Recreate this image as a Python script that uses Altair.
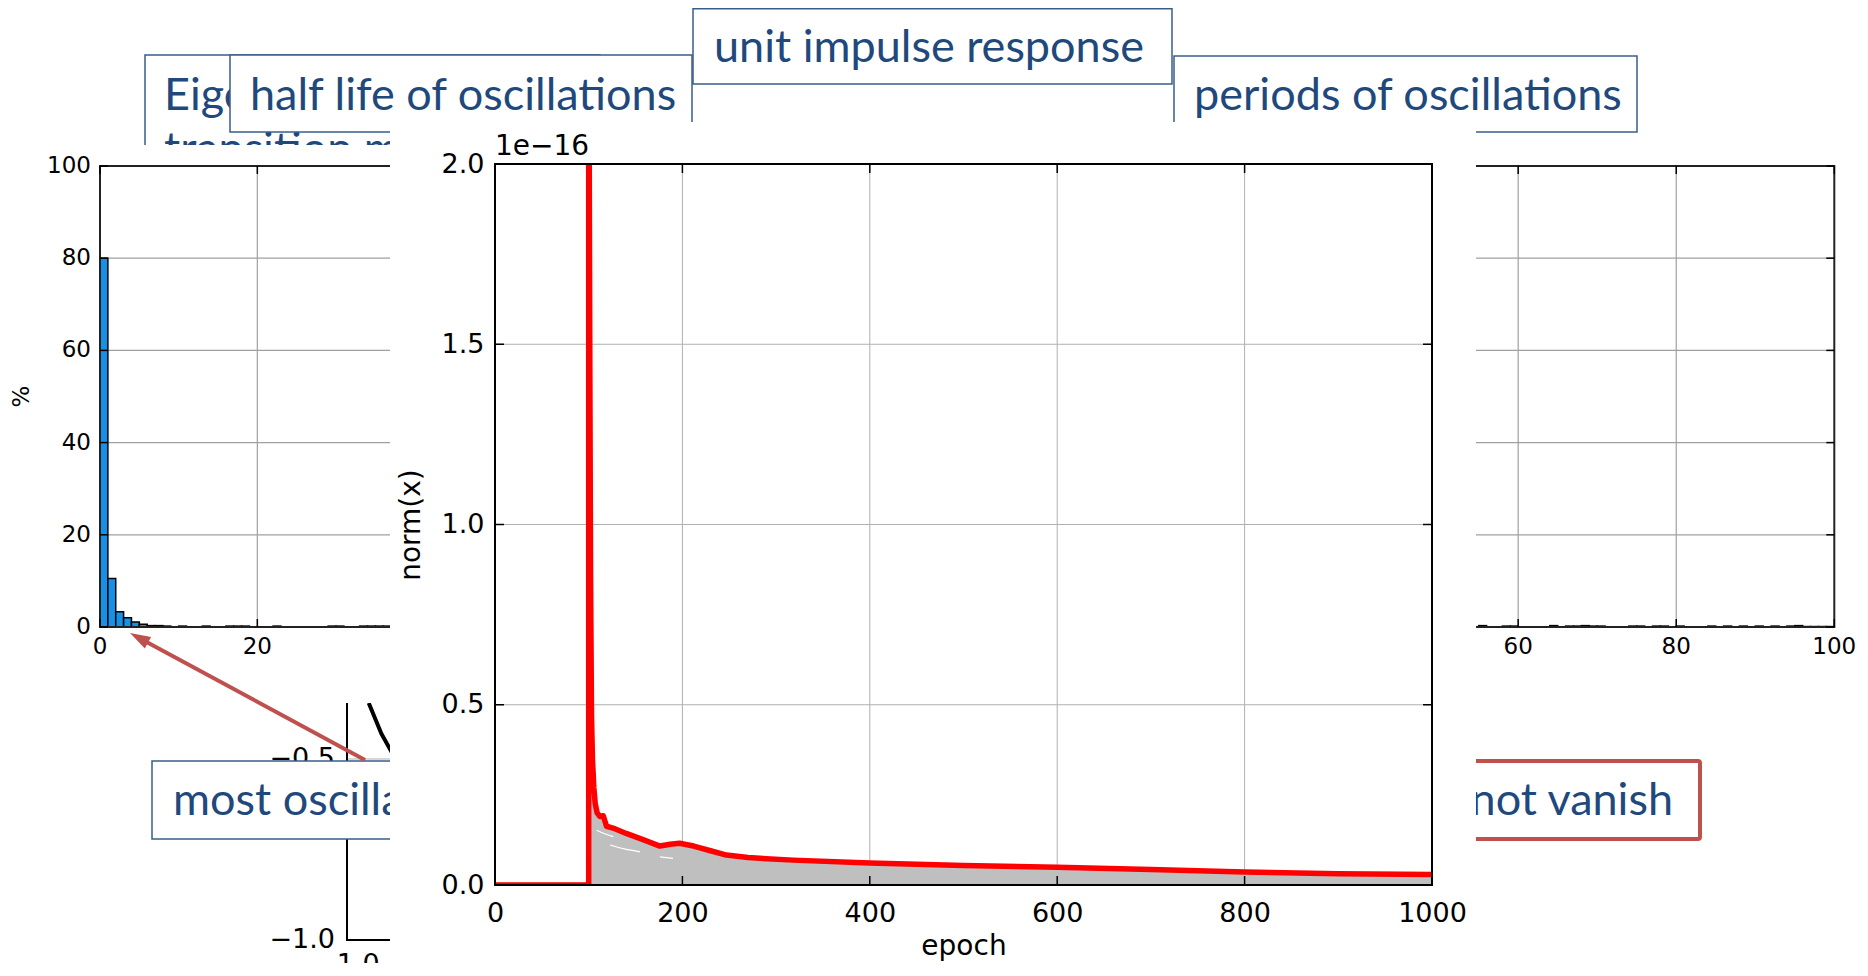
import math
import altair as alt
import pandas as pd

# ------------------------------------------------------------------
# values
# ------------------------------------------------------------------
# main panel "unit impulse response": norm(x) in units of 1e-16
EPOCH = [0, 100, 100, 101, 102, 103, 104, 105.5, 107, 109,
         112, 115.5, 117, 119, 126, 140, 158, 176, 187, 197,
         212, 230, 247, 270, 318, 400, 500, 600, 700, 800, 900, 1000]
NORM_MAX = [0, 0, 2.6, 1.6, 0.85, 0.47, 0.35, 0.27, 0.225, 0.2,
            0.19, 0.192, 0.18, 0.163, 0.158, 0.143, 0.126, 0.108, 0.113, 0.116,
            0.108, 0.095, 0.083, 0.076, 0.069, 0.061, 0.054, 0.049, 0.043, 0.036, 0.031, 0.029]
# grey envelope of the individual responses
ENV_EPOCH = [99.9, 100, 100.6, 101.5, 102.5, 103.5, 105, 107, 109, 112,
             115.5, 119, 126, 140, 158, 176, 187, 197, 212, 230,
             247, 270, 318, 400, 500, 600, 700, 800, 900, 1000]
ENV_NORM = [0, 0.62, 0.55, 0.45, 0.37, 0.31, 0.255, 0.215, 0.193, 0.183,
            0.185, 0.157, 0.153, 0.138, 0.121, 0.103, 0.108, 0.111, 0.103, 0.09,
            0.078, 0.071, 0.064, 0.056, 0.049, 0.044, 0.038, 0.031, 0.026, 0.024]
# thin white gaps between the grey responses
GAP_A_EPOCH = [108.5, 117, 126.3]
GAP_A_NORM = [0.152, 0.142, 0.134]
GAP_B_EPOCH = [122.7, 138, 154.8]
GAP_B_NORM = [0.111, 0.1, 0.092]
GAP_C_EPOCH = [176, 190]
GAP_C_NORM = [0.078, 0.074]
MAIN_X_TICKS = [0, 200, 400, 600, 800, 1000]
MAIN_Y_TICKS = [0.0, 0.5, 1.0, 1.5, 2.0]

# left histogram "half life of oscillations": % per unit bin (visible bins 0..36)
HALF_LIFE_BIN = list(range(0, 37))
HALF_LIFE_PCT = [80.0, 10.5, 3.3, 2.0, 1.1, 0.6, 0.3, 0.3, 0.2, 0,
                 0.2, 0, 0, 0.2, 0, 0, 0.2, 0.2, 0.2, 0,
                 0, 0, 0.2, 0, 0, 0, 0, 0, 0, 0.2,
                 0.2, 0, 0, 0.2, 0.2, 0.2, 0.2]
# right histogram "periods of oscillations": % per unit bin (visible bins 55..99)
PERIOD_BIN = list(range(55, 100))
PERIOD_PCT = [0.3, 0, 0, 0.2, 0.2, 0, 0, 0, 0, 0.3,
              0, 0.2, 0.2, 0.3, 0.2, 0.2, 0, 0, 0, 0.2,
              0.2, 0, 0.2, 0.2, 0, 0.2, 0, 0, 0, 0.2,
              0, 0.2, 0, 0.2, 0, 0.2, 0, 0.2, 0, 0.2,
              0.3, 0.1, 0.1, 0.1, 0.1]
HIST_TICKS = [0, 20, 40, 60, 80, 100]
LEFT_HIST_X_LABELS = [0, 20]          # the others are hidden behind the main panel
RIGHT_HIST_X_LABELS = [60, 80, 100]

# eigenvalue plot (only a corner is visible)
EIG_RE = [-0.94, -0.905, -0.866, -0.83]
EIG_IM = [-0.345, -0.43, -0.5, -0.56]
EIG_GRID = [-0.5, 0.0, 0.5]
EIG_Y_LABELS = [-1.0, -0.5]
EIG_X_LABELS = [-1.0]

TEXT_EIGEN = ["Eigenvalues of", "transition matrix"]
TEXT_HALF = "half life of oscillations"
TEXT_UNIT = "unit impulse response"
TEXT_PERIOD = "periods of oscillations"
TEXT_MOST = "most oscillations"
TEXT_VANISH = "not vanish"

# ------------------------------------------------------------------
# layout (pixels on the 1868x976 slide) and styles
# ------------------------------------------------------------------
OX, OY = 495, 164            # top-left corner of the main plot area
PW, PH = 937, 721            # main plot area size
LHIST = dict(x0=100, x1=886.7, y0=627, y1=166)   # pixel of value 0 / 100
RHIST = dict(x0=1044, x1=1834.3, y0=627, y1=166)
EIGP = dict(x0=347, x1=1071, y0=940, y1=216)     # pixel of -1 / +1
BLUE_LINE, BLUE_TEXT, RED_LINE = "#385D8A", "#1F497D", "#C0504D"
SLIDE_FONT, SLIDE_SIZE = "Lato", 45
CHART_FONT = "DejaVu Sans"
GRID = "#b0b0b0"


def sx(dom, p0, p1):
    return alt.Scale(domain=dom, range=[p0 - OX, p1 - OX], zero=False, nice=False)


def sy(dom, p0, p1):
    return alt.Scale(domain=dom, range=[p0 - OY, p1 - OY], zero=False, nice=False)


SX = sx([0, 1868], 0, 1868)
SY = sy([0, 976], 0, 976)
MX = alt.Scale(domain=[0, 1000], zero=False, nice=False)
MY = alt.Scale(domain=[0, 2], zero=False, nice=False)
LHX = sx([0, 100], LHIST["x0"], LHIST["x1"])
LHY = sy([0, 100], LHIST["y0"], LHIST["y1"])
RHX = sx([0, 100], RHIST["x0"], RHIST["x1"])
RHY = sy([0, 100], RHIST["y0"], RHIST["y1"])
EX = sx([-1, 1], EIGP["x0"], EIGP["x1"])
EY = sy([-1, 1], EIGP["y0"], EIGP["y1"])


def X(f, s):
    return alt.X(f, scale=s, axis=None)


def Y(f, s):
    return alt.Y(f, scale=s, axis=None)


def srect(x0, y0, x1, y1, fill="white", stroke=None, sw=0, radius=0):
    d = pd.DataFrame({"x0": [x0], "x1": [x1], "y0": [y0], "y1": [y1]})
    kw = dict(fill=fill, cornerRadius=radius)
    if stroke:
        kw.update(stroke=stroke, strokeWidth=sw)
    return alt.Chart(d).mark_rect(**kw).encode(
        x=X("x0:Q", SX), x2=alt.X2("x1"), y=Y("y0:Q", SY), y2=alt.Y2("y1"))


def stext(x, y, s, align="left", color=BLUE_TEXT):
    d = pd.DataFrame({"x": [x], "y": [y], "s": [s]})
    return alt.Chart(d).mark_text(align=align, baseline="alphabetic", font=SLIDE_FONT,
                                  fontSize=SLIDE_SIZE, color=color).encode(
        x=X("x:Q", SX), y=Y("y:Q", SY), text="s:N")


def frame(XS, YS, x0, x1, y0, y1, color="black", sw=2):
    d = pd.DataFrame({"a": [x0], "b": [x1], "c": [y0], "d": [y1]})
    return alt.Chart(d).mark_rect(fill="transparent", stroke=color, strokeWidth=sw).encode(
        x=X("a:Q", XS), x2=alt.X2("b"), y=Y("c:Q", YS), y2=alt.Y2("d"))


def vgrid(XS, YS, vals, lo, hi, color=GRID, sw=1):
    d = pd.DataFrame({"v": vals, "lo": lo, "hi": hi})
    return alt.Chart(d).mark_rule(color=color, strokeWidth=sw).encode(
        x=X("v:Q", XS), y=Y("lo:Q", YS), y2=alt.Y2("hi"))


def hgrid(XS, YS, vals, lo, hi, color=GRID, sw=1):
    d = pd.DataFrame({"v": vals, "lo": lo, "hi": hi})
    return alt.Chart(d).mark_rule(color=color, strokeWidth=sw).encode(
        y=Y("v:Q", YS), x=X("lo:Q", XS), x2=alt.X2("hi"))


def ticks(XS, YS, xs, ys, orient, size, **off):
    d = pd.DataFrame({"x": xs, "y": ys})
    return alt.Chart(d).mark_tick(orient=orient, size=size, thickness=1.5, color="black",
                                  opacity=1, **off).encode(x=X("x:Q", XS), y=Y("y:Q", YS))


def box_ticks(XS, YS, xt, yt, x0, x1, y0, y1, size):
    h = size / 2
    return [
        ticks(XS, YS, xt, [y0] * len(xt), "vertical", size, yOffset=-h),
        ticks(XS, YS, xt, [y1] * len(xt), "vertical", size, yOffset=h),
        ticks(XS, YS, [x0] * len(yt), yt, "horizontal", size, xOffset=h),
        ticks(XS, YS, [x1] * len(yt), yt, "horizontal", size, xOffset=-h),
    ]


def xlabels(XS, YS, vals, at, fmt, size, dy):
    d = pd.DataFrame({"x": vals, "y": [at] * len(vals)})
    return alt.Chart(d).mark_text(align="center", baseline="top", dy=dy, font=CHART_FONT,
                                  fontSize=size, color="black").encode(
        x=X("x:Q", XS), y=Y("y:Q", YS), text=alt.Text("x:Q", format=fmt))


def ylabels(XS, YS, vals, at, fmt, size, dx):
    d = pd.DataFrame({"x": [at] * len(vals), "y": vals})
    return alt.Chart(d).mark_text(align="right", baseline="middle", dx=dx, font=CHART_FONT,
                                  fontSize=size, color="black").encode(
        x=X("x:Q", XS), y=Y("y:Q", YS), text=alt.Text("y:Q", format=fmt))


def hist_layers(bins, pct, HX, HY, xlabs, ylabs):
    bars = pd.DataFrame({"b": bins, "p": pct})
    bars["b1"] = bars["b"] + 1
    bars["base"] = 0.0
    bars = bars[bars["p"] > 0]
    inner = HIST_TICKS[1:-1]
    out = [
        vgrid(HX, HY, inner, 0, 100, "#a0a0a0", 1.2),
        hgrid(HX, HY, inner, 0, 100, "#a0a0a0", 1.2),
        alt.Chart(bars).mark_rect(fill="#1791e8", stroke="black", strokeWidth=1.5).encode(
            x=X("b:Q", HX), x2=alt.X2("b1"), y=Y("base:Q", HY), y2=alt.Y2("p")),
        frame(HX, HY, 0, 100, 0, 100, "#222222", 2),
    ]
    out += box_ticks(HX, HY, HIST_TICKS, HIST_TICKS, 0, 100, 0, 100, 8)
    out.append(xlabels(HX, HY, xlabs, 0, "d", 23, 9))
    if ylabs:
        out.append(ylabels(HX, HY, ylabs, 0, "d", 23, -9))
    return out


layers = []

# --- eigenvalue box (mostly hidden) ---
layers.append(srect(145, 55, 600, 200, "white", BLUE_LINE, 1.5))
layers.append(stext(164, 110, TEXT_EIGEN[0]))
layers.append(stext(164, 164, TEXT_EIGEN[1]))

# --- eigenvalue plot corner ---
layers.append(hgrid(EX, EY, EIG_GRID, -1, 1, GRID, 1.2))
layers.append(vgrid(EX, EY, EIG_GRID, -1, 1, GRID, 1.2))
eig = pd.DataFrame({"re": EIG_RE, "im": EIG_IM, "i": range(len(EIG_RE))})
layers.append(alt.Chart(eig).mark_line(color="black", strokeWidth=4).encode(
    x=X("re:Q", EX), y=Y("im:Q", EY), order="i:Q"))
layers.append(frame(EX, EY, -1, 1, -1, 1, "black", 2))
layers.append(ylabels(EX, EY, EIG_Y_LABELS, -1.0, ".1f", 27, -12))
layers.append(xlabels(EX, EY, EIG_X_LABELS, -1.0, ".1f", 27, 12))

# --- left histogram (half life) ---
layers.append(srect(0, 145, 390, 703))
layers += hist_layers(HALF_LIFE_BIN, HALF_LIFE_PCT, LHX, LHY, LEFT_HIST_X_LABELS, HIST_TICKS)
pct = pd.DataFrame({"x": [-9.9], "y": [50], "t": ["%"]})
layers.append(alt.Chart(pct).mark_text(angle=270, align="center", baseline="middle",
                                       font=CHART_FONT, fontSize=23, color="black").encode(
    x=X("x:Q", LHX), y=Y("y:Q", LHY), text="t:N"))

# --- title boxes ---
layers.append(srect(230, 55, 692, 132, "white", BLUE_LINE, 1.5))
layers.append(stext(250, 110, TEXT_HALF))
layers.append(srect(1174, 56, 1637, 132, "white", BLUE_LINE, 1.5))
layers.append(stext(1194, 110, TEXT_PERIOD))
layers.append(srect(693, 8.75, 1172, 84, "white", BLUE_LINE, 1.5))
layers.append(stext(714, 62, TEXT_UNIT))
layers.append(srect(152, 761, 900, 839, "white", BLUE_LINE, 1.5))
layers.append(stext(173, 815, TEXT_MOST))
layers.append(srect(1100, 761, 1700, 839, "white", RED_LINE, 4, 2))
layers.append(stext(1673, 815, TEXT_VANISH, align="right"))

# --- right histogram (periods) ---
layers.append(srect(1476, 140, 1868, 700))
layers += hist_layers(PERIOD_BIN, PERIOD_PCT, RHX, RHY, RIGHT_HIST_X_LABELS, None)

# --- main panel ---
layers.append(srect(390, 122, 1476, 976))
layers.append(vgrid(MX, MY, MAIN_X_TICKS[1:-1], 0, 2))
layers.append(hgrid(MX, MY, MAIN_Y_TICKS[1:-1], 0, 1000))
env = pd.DataFrame({"e": ENV_EPOCH, "v": ENV_NORM, "base": [0.0] * len(ENV_EPOCH)})
layers.append(alt.Chart(env).mark_area(fill="#bfbfbf", fillOpacity=1, stroke="#bfbfbf",
                                       strokeWidth=1, opacity=1).encode(
    x=X("e:Q", MX), y=alt.Y("v:Q", scale=MY, axis=None, stack=None), y2=alt.Y2("base")))
for ge, gv in [(GAP_A_EPOCH, GAP_A_NORM), (GAP_B_EPOCH, GAP_B_NORM), (GAP_C_EPOCH, GAP_C_NORM)]:
    g = pd.DataFrame({"e": ge, "v": gv})
    layers.append(alt.Chart(g).mark_line(color="white", strokeWidth=1.2, interpolate="monotone").encode(
        x=X("e:Q", MX), y=Y("v:Q", MY)))
red = pd.DataFrame({"e": EPOCH, "v": NORM_MAX, "i": range(len(EPOCH))})
layers.append(alt.Chart(red).mark_line(color="#ff0000", strokeWidth=5.5, clip=True, strokeJoin="round").encode(
    x=alt.X("e:Q", scale=MX, axis=alt.Axis(
        values=MAIN_X_TICKS, format="d", title="epoch", grid=False, ticks=False, domain=False,
        labelFont=CHART_FONT, labelFontSize=27, labelColor="black", labelPadding=15,
        labelFlush=False, labelOverlap=False, titleFont=CHART_FONT, titleFontSize=28,
        titleFontWeight="normal", titleColor="black", titleX=PW / 2, titleY=69,
        titleBaseline="alphabetic", zindex=1)),
    y=alt.Y("v:Q", scale=MY, axis=alt.Axis(
        values=MAIN_Y_TICKS, format=".1f", title="norm(x)", grid=False, ticks=False, domain=False,
        labelFont=CHART_FONT, labelFontSize=27, labelColor="black", labelPadding=11,
        labelFlush=False, labelOverlap=False, titleFont=CHART_FONT, titleFontSize=28,
        titleFontWeight="normal", titleColor="black", titleX=-84, titleY=PH / 2,
        titleBaseline="middle", zindex=1)),
    order="i:Q"))
layers.append(frame(MX, MY, 0, 1000, 0, 2, "black", 2))
layers += box_ticks(MX, MY, MAIN_X_TICKS, MAIN_Y_TICKS, 0, 1000, 0, 2, 9)
off = pd.DataFrame({"x": [0], "y": [2.0], "t": ["1e\u221216"]})
layers.append(alt.Chart(off).mark_text(align="left", baseline="alphabetic", dy=-9, font=CHART_FONT,
                                       fontSize=28, color="black").encode(
    x=X("x:Q", MX), y=Y("y:Q", MY), text="t:N"))

# --- red arrow ---
AX0, AY0, AX1, AY1 = 365, 760, 130, 633
L = math.hypot(AX1 - AX0, AY1 - AY0)
ux, uy = (AX1 - AX0) / L, (AY1 - AY0) / L
HEAD = 12
arrow = pd.DataFrame({"x": [AX0], "y": [AY0], "x2": [AX1 - ux * HEAD], "y2": [AY1 - uy * HEAD]})
layers.append(alt.Chart(arrow).mark_rule(color=RED_LINE, strokeWidth=4).encode(
    x=X("x:Q", SX), y=Y("y:Q", SY), x2=alt.X2("x2"), y2=alt.Y2("y2")))
head = pd.DataFrame({"x": [AX1 - ux * HEAD], "y": [AY1 - uy * HEAD]})
angle = (math.degrees(math.atan2(ux, -uy)) + 360) % 360
layers.append(alt.Chart(head).mark_point(shape="M0,-1L0.55,0.7L-0.55,0.7Z", filled=True, size=4 * HEAD * HEAD,
                                         angle=angle, color=RED_LINE, opacity=1).encode(
    x=X("x:Q", SX), y=Y("y:Q", SY)))

chart = alt.layer(*layers).resolve_scale(x="independent", y="independent").properties(
    width=PW, height=PH,
    autosize=alt.AutoSizeParams(type="none"),
    padding={"left": OX - 8, "top": OY - 8, "right": 426, "bottom": 78},
).configure_view(stroke=None)

chart.save("out.html", embed_options={"renderer": "svg", "actions": False})
